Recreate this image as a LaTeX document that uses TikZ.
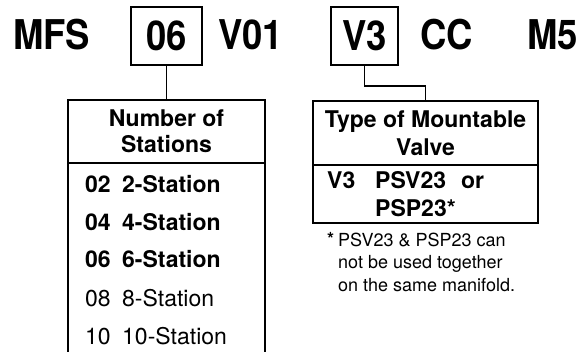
\documentclass[tikz,border=0pt]{standalone}
\usepackage{fontspec}
\setmainfont{TeX Gyre Heros}
\newfontfamily\codefont[FakeStretch=0.89]{TeX Gyre Heros}
\usepackage{tikz}
\usetikzlibrary{positioning}

\begin{document}
\begin{tikzpicture}[x=1pt,y=-1pt,
  % Big bold letters of the model code
  code/.style={font=\codefont\bfseries\fontsize{41}{41}\selectfont,
               inner sep=0pt,anchor=base west},
  % Code letters that get a frame
  codebox/.style={code,draw,line width=1.8pt,anchor=center,
                  minimum height=58pt},
  % Table heads and table bodies
  tbl/.style={draw,line width=1.8pt,inner sep=0pt,align=center,
              font=\bfseries\fontsize{23}{26}\selectfont},
  % One line of a table
  row/.style={anchor=base west,inner sep=0pt,font=\fontsize{23}{26}\selectfont},
  boldrow/.style={row,font=\bfseries\fontsize{23}{26}\selectfont},
  % Small footnote under the valve table (base = its last line)
  note/.style={anchor=base west,inner sep=0pt,align=left,
               font=\fontsize{18}{22.5}\selectfont},
  link/.style={draw,line width=1.8pt}
]
  \useasboundingbox (0,0) rectangle (580,352);
  \clip (0,0) rectangle (580,352);

  % ---- Model code (1 unit = 1 pixel, y grows downwards) ----
  \node[code]                      (mfs)    at (13,50)    {MFS};
  \node[codebox,minimum width=71pt] (code06) at (166.5,36) {06};
  \node[code]                      (v01)    at (218,50)   {V01};
  \node[codebox,minimum width=67pt] (codeV3) at (364.5,36) {V3};
  \node[code]                      (cc)     at (420,50)   {CC};
  \node[code]                      (m5)     at (527,50)   {M5};

  % ---- Table: number of stations ----
  \node[tbl,minimum width=197pt,minimum height=63pt]  (stationshead) at (166.5,131.5)
       {Number of\\Stations};
  \node[tbl,minimum width=197pt,minimum height=207pt] (stationsbody) at (166.5,266.5) {};
  \node[boldrow] (n02) at (85,193) {02};
  \node[boldrow] (s02) at (122,193) {2-Station};
  \node[boldrow] (n04) at (85,231) {04};
  \node[boldrow] (s04) at (122,231) {4-Station};
  \node[boldrow] (n06) at (85,268) {06};
  \node[boldrow] (s06) at (122,268) {6-Station};
  \node[row]     (n08) at (85,306) {08};
  \node[row]     (s08) at (122,306) {8-Station};
  \node[row]     (n10) at (85,344) {10};
  \node[row]     (s10) at (122,344) {10-Station};

  % ---- Table: type of mountable valve ----
  \node[tbl,minimum width=225pt,minimum height=64pt] (typehead) at (425.5,133)
       {Type of Mountable\\[2pt]Valve};
  \node[tbl,minimum width=225pt,minimum height=58pt] (typebody) at (425.5,194) {};
  \node[boldrow] (v3)  at (327,189) {V3};
  \node[boldrow] (psv) at (375,189) {PSV23\hspace{15pt}or};
  \node[boldrow] (psp) at (375,217) {PSP23*};

  % ---- Footnote ----
  \node[note,font=\bfseries\fontsize{18}{22.5}\selectfont] (star) at (327,246) {*};
  \node[note] (remark) at (338,291)
       {PSV23 \& PSP23 can\\not be used together\\on the same manifold.};

  % ---- Connectors ----
  \draw[link] (code06.south) -- (stationshead.north);
  \draw[link] (codeV3.south) -- ++(0,20) -| (typehead.north);
\end{tikzpicture}
\end{document}
